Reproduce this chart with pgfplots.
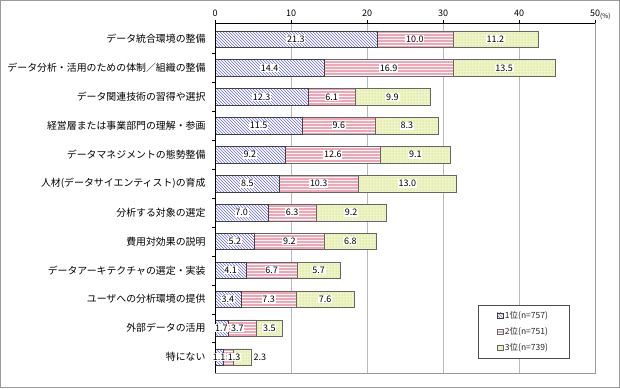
\documentclass[border=0pt]{standalone}
\usepackage{pgfplots}
\pgfplotsset{compat=1.18}
\usepackage{pgfplotstable}
\usetikzlibrary{patterns}
\usepackage{fontspec}
\setmainfont{Noto Sans CJK JP}
\definecolor{sA}{HTML}{6A6AD6}
\definecolor{sB}{HTML}{F4A4B2}
\definecolor{sC}{HTML}{EFF5C4}
\definecolor{sCdot}{HTML}{B0C468}
\definecolor{frm}{HTML}{9A9A9A}

\pgfplotstableread{
y a b c oa ob oc
11 21.3 10.0 11.2 0 0 0
10 14.4 16.9 13.5 0 0 0
9 12.3 6.1 9.9 0 0 0
8 11.5 9.6 8.3 0 0 0
7 9.2 12.6 9.1 0 0 0
6 8.5 10.3 13.0 0 0 0
5 7.0 6.3 9.2 0 0 0
4 5.2 9.2 6.8 0 0 0
3 4.1 6.7 5.7 0 0 0
2 3.4 7.3 7.6 0 0 0
1 1.7 3.7 3.5 0 -0.6 0
0 1.1 1.3 2.3 0 0.75 2.35
}\data

\begin{document}
\begin{tikzpicture}
\useasboundingbox (0,0) rectangle (620pt,388pt);
\draw[frm, line width=1.2pt] (0.6pt,0.6pt) rectangle (619.4pt,387.4pt);
\pgfplotsset{base/.style={
  at={(215pt,15pt)}, anchor=south west, scale only axis,
  width=380pt, height=350pt,
  xmin=0, xmax=50, ymin=-0.554, ymax=11.554,
}}
\begin{axis}[base,
  xbar stacked, bar width=16.5pt,
  axis line style={draw=frm},
  xtick={0,10,...,50},
  xtick pos=right, xticklabel pos=right,
  tick align=outside, major tick length=3pt, minor tick length=3pt,
  xtick style={draw=black},
  xmajorgrids, grid style={draw=gray!55, line width=0.6pt},
  xticklabel style={font=\fontsize{9}{10}\selectfont},
  /pgf/number format/assume math mode=true,
  ytick={0,...,11},
  ytick pos=left,
  minor ytick={0.5,1.5,...,10.5},
  every major y tick/.append style={draw=none},
  every minor y tick/.append style={draw=black},
  yticklabels={特にない,外部データの活用,ユーザへの分析環境の提供,データアーキテクチャの選定・実装,費用対効果の説明,分析する対象の選定,人材(データサイエンティスト)の育成,データマネジメントの態勢整備,経営層または事業部門の理解・参画,データ関連技術の習得や選択,データ分析・活用のための体制／組織の整備,データ統合環境の整備},
  yticklabel style={font=\fontsize{9.9}{11}\selectfont, xshift=-3pt},
  legend image code/.code={\draw[#1] (0pt,-2.8pt) rectangle (5.6pt,2.8pt);},
  legend style={at={(0.932,0.194)}, anchor=north east, draw=black!70,
    font=\fontsize{8.5}{9}\selectfont, text=black!85, inner xsep=19pt, inner ysep=4pt,
    row sep=3.5pt, cells={anchor=west}},
  after end axis/.code={
    \draw[black, line width=0.6pt] (axis description cs:0,0) -- (axis description cs:0,1) -- (axis description cs:1,1);
    \node[anchor=west, font=\fontsize{6.5}{7}\selectfont, inner sep=0pt] at ([xshift=5pt, yshift=6.5pt]axis description cs:1,1) {(\%)};
  },
]
\addplot[fill=white, draw=black!75, postaction={pattern=north west lines, pattern color=sA}] table[x=a, y=y]{\data};
\addplot[fill=sB, draw=black!60, postaction={pattern=horizontal lines, pattern color=white}] table[x=b, y=y]{\data};
\addplot[fill=sC, draw=black!60, postaction={pattern=dots, pattern color=sCdot}] table[x=c, y=y]{\data};
\legend{1位(n=757),2位(n=751),3位(n=739)}
\end{axis}
\begin{axis}[base, hide axis,
  nodes near coords, nodes near coords align=center, point meta=explicit symbolic,
  every node near coord/.append style={anchor=center, fill=white, inner sep=0.8pt,
    font=\fontsize{9}{10}\selectfont, text=black},
]
\addplot[draw=none, mark=none] table[x expr=\thisrow{a}/2+\thisrow{oa}, y=y, meta=a]{\data};
\addplot[draw=none, mark=none] table[x expr=\thisrow{a}+\thisrow{b}/2+\thisrow{ob}, y=y, meta=b]{\data};
\addplot[draw=none, mark=none] table[x expr=\thisrow{a}+\thisrow{b}+\thisrow{c}/2+\thisrow{oc}, y=y, meta=c]{\data};
\end{axis}
\end{tikzpicture}
\end{document}
